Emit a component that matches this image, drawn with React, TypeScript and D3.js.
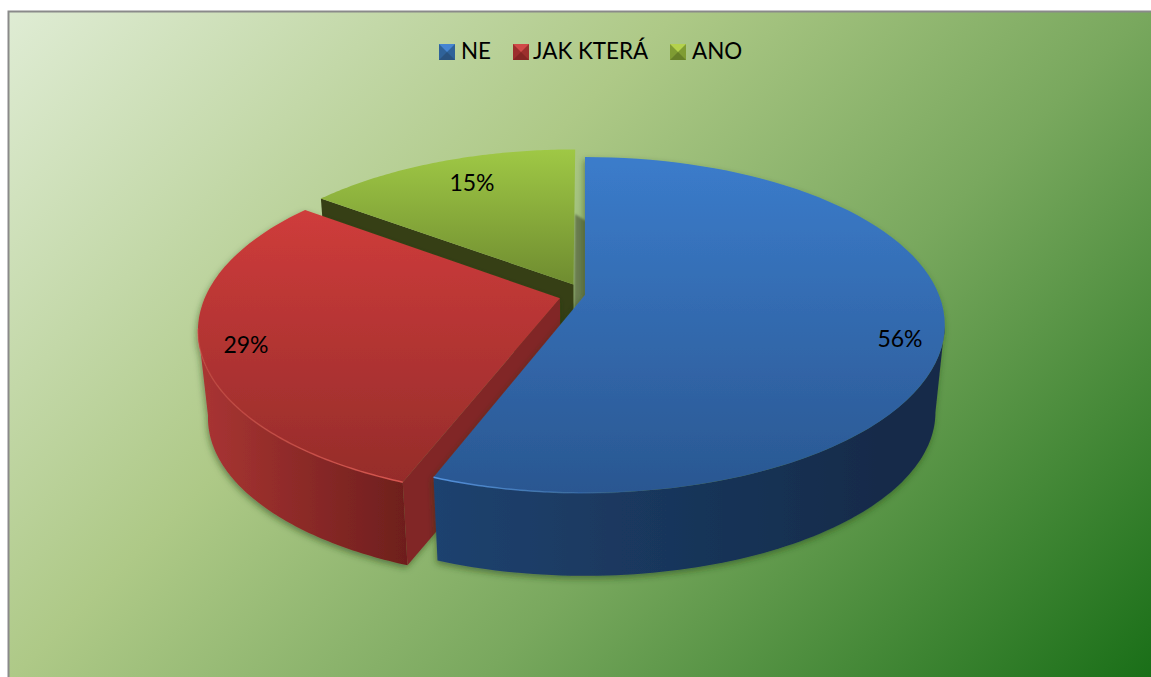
import React from "react";
import * as d3 from "d3";

const categories = ["NE", "JAK KTERÁ", "ANO"];
const values = [55.8, 29.4, 14.8];
const labels = ["56%", "29%", "15%"];
const explode = [0, 0.0735, 0.0735];
const labelPos: [number, number][] = [[900, 339], [246, 345], [472, 183]];
const legendSwatchX = [439, 513, 670];
const legendTextX = [461, 533, 692];

const topFill = [["#3b7ccb", "#2a5791"], ["#cf3c3b", "#952c2a"], ["#9fc845", "#6f8c30"]];
const wallFill = [["#1e426f", "#142a48"], ["#a83432", "#6e1f1d"], ["#363f15", "#363f15"]];
const cutFill = ["#1e426f", "#812725", "#363f15"];
const rimFill = ["#5494e0", "#e05a54", "#a6cc50"];
const swatch = [["#4585d2", "#2f6299", "#29527f"], ["#d04a48", "#9c2f2d", "#842523"], ["#b4d24c", "#7f9c33", "#667f28"]];

// perspective model of the pie plane
const CX = 585, CY = 295, A = 354, B = 162.6, K = 0.1786, LOWER_S = 0.974, LOWER_D = 88;

const project = (u: number, v: number, lower: boolean): [number, number] => {
  const w = 1 - K * v;
  const x = A * u / w, y = B * v / w;
  return lower ? [CX + LOWER_S * x, CY + LOWER_D + LOWER_S * y] : [CX + x, CY + y];
};

const slices = d3.pie<number>().sort(null)(values);
const lineGen = d3.line();
// angle at which the projected circle reaches its horizontal extreme
const EXTREME = Math.acos(-K);

const point = (i: number, a: number, r: number, lower: boolean) => {
  const s = slices[i];
  const mid = (s.startAngle + s.endAngle) / 2;
  const ex = explode[i];
  const u = ex * Math.sin(mid) + r * Math.sin(a);
  const v = -ex * Math.cos(mid) - r * Math.cos(a);
  return project(u, v, lower);
};
const arcPts = (i: number, a0: number, a1: number, lower: boolean) =>
  d3.range(0, 81).map((k) => point(i, a0 + ((a1 - a0) * k) / 80, 1, lower));

const topPath = (i: number) => {
  const s = slices[i];
  return lineGen([point(i, 0, 0, false), ...arcPts(i, s.startAngle, s.endAngle, false)]) + "Z";
};
const wallPath = (i: number, a0: number, a1: number) =>
  lineGen([...arcPts(i, a0, a1, false), ...arcPts(i, a0, a1, true).reverse()]) + "Z";
const cutPath = (i: number, a: number) =>
  lineGen([point(i, 0, 0, false), point(i, a, 1, false), point(i, a, 1, true), point(i, 0, 0, true)]) + "Z";
const rimPath = (i: number, a0: number, a1: number) => lineGen(arcPts(i, a0, a1, false)) || "";

const FONT = "Lato, 'Open Sans', sans-serif";

export default function App() {
  const [ne, red, green] = slices;
  const topY = (i: number) => d3.extent(arcPts(i, slices[i].startAngle, slices[i].endAngle, false).map((p) => p[1])) as [number, number];
  return (
    <svg width={1151} height={677} style={{ position: "fixed", left: 0, top: 0, display: "block" }}>
      <defs>
        <linearGradient id="bg" gradientUnits="userSpaceOnUse" x1={9} y1={12} x2={912} y2={915}>
          <stop offset="0" stopColor="#dfecd4" />
          <stop offset="0.37" stopColor="#aec987" />
          <stop offset="0.63" stopColor="#79a85e" />
          <stop offset="1" stopColor="#1a6f18" />
        </linearGradient>
        {values.map((_, i) => {
          const [y0, y1] = topY(i);
          const yEnd = i === 2 ? point(2, 0, 0, false)[1] : y1;
          return (
            <linearGradient key={i} id={`top${i}`} gradientUnits="userSpaceOnUse" x1={0} x2={0} y1={y0} y2={yEnd}>
              <stop offset="0" stopColor={topFill[i][0]} />
              <stop offset="1" stopColor={topFill[i][1]} />
            </linearGradient>
          );
        })}
        <linearGradient id="wall0" gradientUnits="userSpaceOnUse" x1={433} x2={900} y1={0} y2={0}>
          <stop offset="0" stopColor={wallFill[0][0]} />
          <stop offset="1" stopColor={wallFill[0][1]} />
        </linearGradient>
        <linearGradient id="wall1" gradientUnits="userSpaceOnUse" x1={205} x2={405} y1={0} y2={0}>
          <stop offset="0" stopColor={wallFill[1][0]} />
          <stop offset="1" stopColor={wallFill[1][1]} />
        </linearGradient>
        <linearGradient id="rim0" gradientUnits="userSpaceOnUse" x1={433} x2={640} y1={0} y2={0}>
          <stop offset="0" stopColor={rimFill[0]} stopOpacity={1} />
          <stop offset="1" stopColor={rimFill[0]} stopOpacity={0} />
        </linearGradient>
        <linearGradient id="rim1" gradientUnits="userSpaceOnUse" x1={404} x2={200} y1={0} y2={0}>
          <stop offset="0" stopColor={rimFill[1]} stopOpacity={0.9} />
          <stop offset="1" stopColor={rimFill[1]} stopOpacity={0.35} />
        </linearGradient>
        <filter id="sh" x="-10%" y="-10%" width="120%" height="125%">
          <feDropShadow dx={-1} dy={3} stdDeviation={3} floodColor="#1c3a10" floodOpacity={0.5} />
        </filter>
        <filter id="soft" x="-50%" y="-20%" width="200%" height="140%">
          <feGaussianBlur stdDeviation={0.8} />
        </filter>
      </defs>

      <rect x={8.5} y={11.5} width={1150} height={670} fill="url(#bg)" stroke="#8a8a8a" strokeWidth={2} />

      {/* ANO */}
      <g>
        <path d="M575,214 L586,221 L586,300 L574,312 Z" fill="#6b7d50" filter="url(#soft)" />
        <path d={cutPath(2, green.startAngle)} fill={cutFill[2]} />
        <path d={topPath(2)} fill="url(#top2)" />
      </g>

      {/* JAK KTERÁ */}
      <g filter="url(#sh)">
        <path d={wallPath(1, red.startAngle, 2 * Math.PI - EXTREME)} fill="url(#wall1)" />
        <path d={cutPath(1, red.startAngle)} fill={cutFill[1]} />
        <path d={topPath(1)} fill="url(#top1)" />
        <path d={rimPath(1, red.startAngle, 2 * Math.PI - EXTREME)} fill="none" stroke="url(#rim1)" strokeWidth={1.5} />
      </g>

      {/* NE */}
      <g filter="url(#sh)">
        <path d={wallPath(0, EXTREME, ne.endAngle)} fill="url(#wall0)" />
        <path d={topPath(0)} fill="url(#top0)" />
        <path d={rimPath(0, ne.endAngle - 0.9, ne.endAngle)} fill="none" stroke="url(#rim0)" strokeWidth={1.5} />
      </g>

      {labels.map((t, i) => (
        <text key={t} x={labelPos[i][0]} y={labelPos[i][1] + 8} textAnchor="middle" fontFamily={FONT} fontSize={23} fill="#000">{t}</text>
      ))}

      {categories.map((c, i) => {
        const x = legendSwatchX[i], y = 44, z = 16, m = z / 2;
        return (
          <g key={c}>
            <rect x={x} y={y} width={z} height={z} fill={swatch[i][1]} />
            <path d={`M${x},${y + z}h${z}l${-m},${-m}Z`} fill={swatch[i][2]} />
            <path d={`M${x},${y}h${z}l${-m},${m}Z`} fill={swatch[i][0]} />
            <text x={legendTextX[i]} y={59} fontFamily={FONT} fontSize={22.4} fill="#000">{c}</text>
          </g>
        );
      })}
    </svg>
  );
}
